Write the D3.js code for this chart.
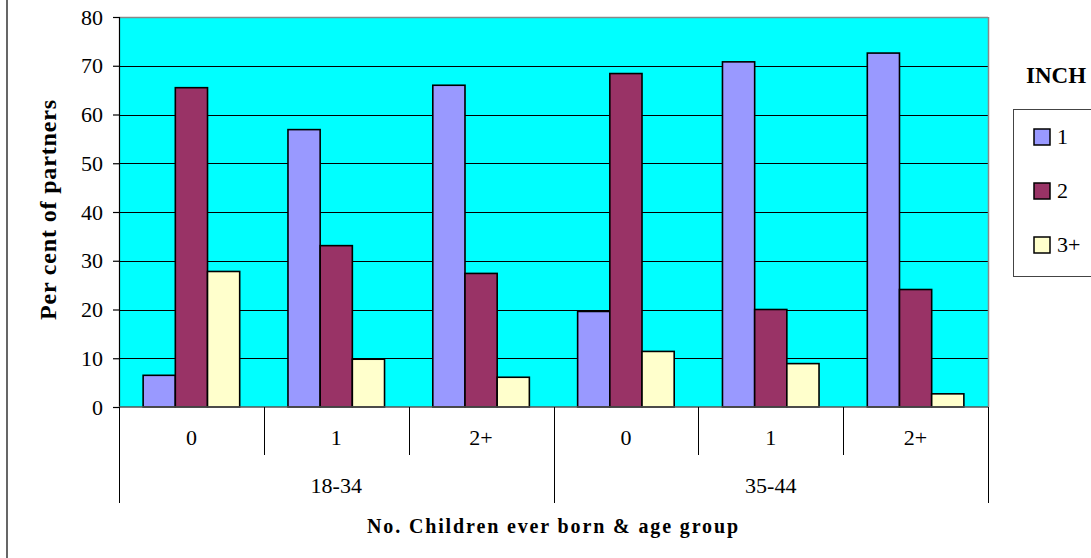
<!DOCTYPE html>
<html>
<head>
<meta charset="utf-8">
<script src="https://cdn.jsdelivr.net/npm/d3@7"></script>
<style>
  html, body { margin: 0; padding: 0; background: #fff; }
  svg { display: block; }
  text { font-family: "Liberation Serif", "Times New Roman", serif; fill: #000; }
</style>
</head>
<body>
<svg id="chart" width="1091" height="558"></svg>
<script>
const ageGroups = ["18-34", "35-44"];
const childCats = ["0", "1", "2+"];
const seriesNames = ["1", "2", "3+"];
const series1 = [6.5, 56.9, 66.0, 19.6, 70.8, 72.6];
const series2 = [65.5, 33.1, 27.4, 68.4, 20.0, 24.1];
const series3 = [27.8, 9.8, 6.1, 11.4, 8.9, 2.7];
const yTicks = [0, 10, 20, 30, 40, 50, 60, 70, 80];
const colors = ["#9999FF", "#993366", "#FFFFCC"];
const legendTitle = "INCH";
const yTitle = "Per cent of partners";
const xTitle = "No. Children ever born & age group";

(function () {
const svg = d3.select("#chart");
const pL = 119, pR = 988, pT = 17, pB = 407;
const fs = 22;

// outer chart border (left edge visible)
svg.append("line").attr("x1", 7).attr("x2", 7).attr("y1", 0).attr("y2", 558)
  .attr("stroke", "#000").attr("stroke-width", 1.2);

const cats = [];
ageGroups.forEach(a => childCats.forEach(c => cats.push(a + "|" + c)));

const x = d3.scaleBand().domain(cats).range([pL, pR]).paddingInner(0).paddingOuter(0);
const xi = d3.scaleBand().domain(seriesNames).range([0, x.bandwidth()]).paddingInner(0).paddingOuter(0.75);
const y = d3.scaleLinear().domain([0, 80]).range([pB, pT]);

// plot background
svg.append("rect").attr("x", pL).attr("y", pT).attr("width", pR - pL).attr("height", pB - pT)
  .attr("fill", "#00FFFF");

// gridlines
svg.append("g").selectAll("line").data(yTicks.filter(t => t > 0 && t < 80)).join("line")
  .attr("x1", pL).attr("x2", pR)
  .attr("y1", d => Math.round(y(d)) + 0.5).attr("y2", d => Math.round(y(d)) + 0.5)
  .attr("stroke", "#000").attr("stroke-width", 1);

// plot border top & right (gray)
svg.append("line").attr("x1", pL).attr("x2", pR).attr("y1", pT + 0.5).attr("y2", pT + 0.5)
  .attr("stroke", "#888").attr("stroke-width", 1.5);
svg.append("line").attr("x1", pR + 0.5).attr("x2", pR + 0.5).attr("y1", pT).attr("y2", pB)
  .attr("stroke", "#888").attr("stroke-width", 1.5);

// bars
const allSeries = [series1, series2, series3];
const barData = [];
allSeries.forEach((vals, si) => vals.forEach((v, ci) => barData.push({ s: seriesNames[si], si, cat: cats[ci], v })));
svg.append("g").selectAll("rect").data(barData).join("rect")
  .attr("x", d => x(d.cat) + xi(d.s))
  .attr("width", xi.bandwidth())
  .attr("y", d => y(d.v))
  .attr("height", d => y(0) - y(d.v))
  .attr("fill", d => colors[d.si])
  .attr("stroke", "#000").attr("stroke-width", 1.6);

// y axis
const yAxis = svg.append("g").attr("transform", `translate(${pL},0)`)
  .call(d3.axisLeft(y).tickValues(yTicks).tickSize(6).tickPadding(10).tickFormat(d3.format("d")));
yAxis.select(".domain").attr("stroke", "#000").attr("stroke-width", 1.2);
yAxis.selectAll(".tick line").attr("stroke", "#000").attr("stroke-width", 1.2);
yAxis.selectAll(".tick text").attr("font-size", fs).attr("fill", "#000");

// x axis baseline
svg.append("line").attr("x1", pL).attr("x2", pR).attr("y1", pB).attr("y2", pB)
  .attr("stroke", "#555").attr("stroke-width", 1.5);

// inner category dividers and labels
const innerBounds = cats.map(c => x(c)).concat([pR]);
svg.append("g").selectAll("line").data(innerBounds).join("line")
  .attr("x1", d => Math.round(d) + 0.5).attr("x2", d => Math.round(d) + 0.5)
  .attr("y1", pB).attr("y2", 455).attr("stroke", "#000").attr("stroke-width", 1);
svg.append("g").selectAll("text").data(cats).join("text")
  .attr("x", d => x(d) + x.bandwidth() / 2).attr("y", 445)
  .attr("text-anchor", "middle").attr("font-size", fs)
  .text(d => d.split("|")[1]);

// outer age-group dividers and labels
const ageBounds = ageGroups.map(a => x(a + "|" + childCats[0])).concat([pR]);
svg.append("g").selectAll("line").data(ageBounds).join("line")
  .attr("x1", d => Math.round(d) + 0.5).attr("x2", d => Math.round(d) + 0.5)
  .attr("y1", pB).attr("y2", 503).attr("stroke", "#000").attr("stroke-width", 1);
svg.append("g").selectAll("text").data(ageGroups).join("text")
  .attr("x", a => {
    const first = x(a + "|" + childCats[0]);
    const last = x(a + "|" + childCats[childCats.length - 1]) + x.bandwidth();
    return (first + last) / 2;
  })
  .attr("y", 493).attr("text-anchor", "middle").attr("font-size", fs)
  .text(a => a);

// axis titles
svg.append("text").attr("x", (pL + pR) / 2 - 1).attr("y", 533)
  .attr("text-anchor", "middle").attr("font-size", 20).attr("font-weight", "bold")
  .attr("textLength", 371).attr("lengthAdjust", "spacing")
  .text(xTitle);
svg.append("text").attr("transform", "translate(56,210) rotate(-90)")
  .attr("text-anchor", "middle").attr("font-size", 24).attr("font-weight", "bold")
  .attr("textLength", 220).attr("lengthAdjust", "spacing")
  .text(yTitle);

// legend
svg.append("text").attr("x", 1026).attr("y", 83).attr("font-size", 23).attr("font-weight", "bold")
  .text(legendTitle);
svg.append("rect").attr("x", 1013.5).attr("y", 109.5).attr("width", 100).attr("height", 167)
  .attr("fill", "#fff").attr("stroke", "#444").attr("stroke-width", 1);
const rowY = [137, 191, 245];
const lg = svg.append("g").selectAll("g").data(seriesNames).join("g")
  .attr("transform", (d, i) => `translate(1034,${rowY[i]})`);
lg.append("rect").attr("x", 0).attr("y", -8).attr("width", 16).attr("height", 16)
  .attr("fill", (d, i) => colors[i]).attr("stroke", "#000").attr("stroke-width", 1.5);
lg.append("text").attr("x", 23).attr("y", 7).attr("font-size", fs).text(d => d);
})();
</script>
</body>
</html>
